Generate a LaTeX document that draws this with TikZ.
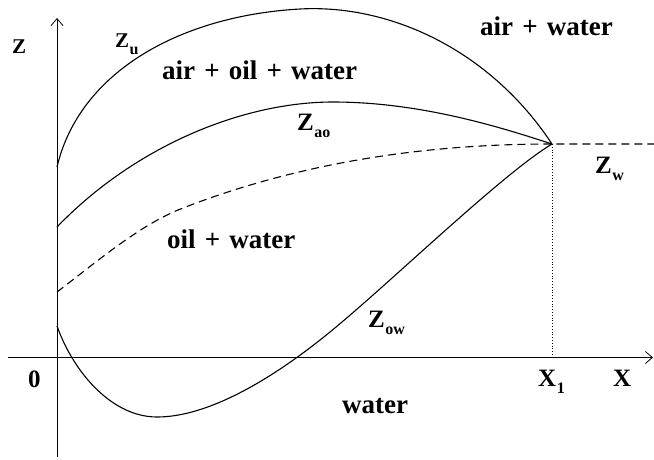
\documentclass[tikz,border=0pt]{standalone}
\usepackage{fontspec}
\setmainfont{Liberation Serif}
\usetikzlibrary{arrows.meta}
\newcommand\mywordfont{\fontsize{27}{30}\selectfont\bfseries\spaceskip=0.34em\relax}
\newcommand\mysub[1]{\kern0.5pt\raisebox{-7pt}{\fontsize{16}{16}\selectfont\bfseries #1}}
\begin{document}
\begin{tikzpicture}[x=1pt,y=-1pt,
  axis/.style={line width=0.8pt,-{Straight Barb[length=7pt,width=12pt,line width=0.8pt]}},
  curve/.style={line width=1.1pt},
  word/.style={anchor=base west,inner sep=0pt,font=\mywordfont},
  sym/.style={anchor=base west,inner sep=0pt,font=\fontsize{25}{28}\selectfont\bfseries},
  symsmall/.style={anchor=base west,inner sep=0pt,font=\fontsize{21}{24}\selectfont\bfseries}]
\useasboundingbox (0,0) rectangle (654,459);
% axes
\coordinate (zbot) at (57,457);
\coordinate (ztop) at (57,18);
\coordinate (xleft) at (8,357.5);
\coordinate (xright) at (653,357.5);
\draw[axis] (zbot) -- (ztop);
\draw[axis] (xleft) -- (xright);
\coordinate (P) at (552,144);
\coordinate (Pfoot) at (552,357.5);
\coordinate (Wend) at (654,144);
\draw[dotted,line width=0.8pt] (P) -- (Pfoot);
% Zu
\draw[curve] (57,167) .. controls (80,70) and (183,15.5) .. (300,9)
  .. controls (390,4) and (490,50) .. (P);
% Zao
\draw[curve] (57,227) .. controls (135,146) and (243,102) .. (333,102)
  .. controls (420,102) and (500,127) .. (P);
% Zw dashed
\draw[curve,dash pattern=on 8pt off 5pt] (57,292) .. controls (99,260) and (141,224) .. (183,208)
  .. controls (304,161) and (430,144) .. (P) -- (Wend);
% Zow
\draw[curve] (57,326) .. controls (73.5,372.5) and (112,417) .. (157,417)
  .. controls (207,417) and (270,381) .. (330,332)
  .. controls (390,283) and (502,174) .. (P);
% labels
\node[symsmall] (lz) at (12,53) {Z};
\node[symsmall] (lzu) at (115,47) {Z\mysub{u}};
\node[word] (l1) at (162,79) {air + oil + water};
\node[word] (l2) at (480,35) {air + water};
\node[sym] (lzao) at (297,130) {Z\mysub{ao}};
\node[sym] (lzw) at (595,173) {Z\mysub{w}};
\node[word] (l3) at (167,248) {oil + water};
\node[sym] (lzow) at (368,327) {Z\mysub{ow}};
\node[sym] (l0) at (28,387) {0};
\node[sym] (lx1) at (538,386) {X\mysub{1}};
\node[sym] (lx) at (613,386) {X};
\node[word] (l4) at (342,413) {water};
\end{tikzpicture}
\end{document}
